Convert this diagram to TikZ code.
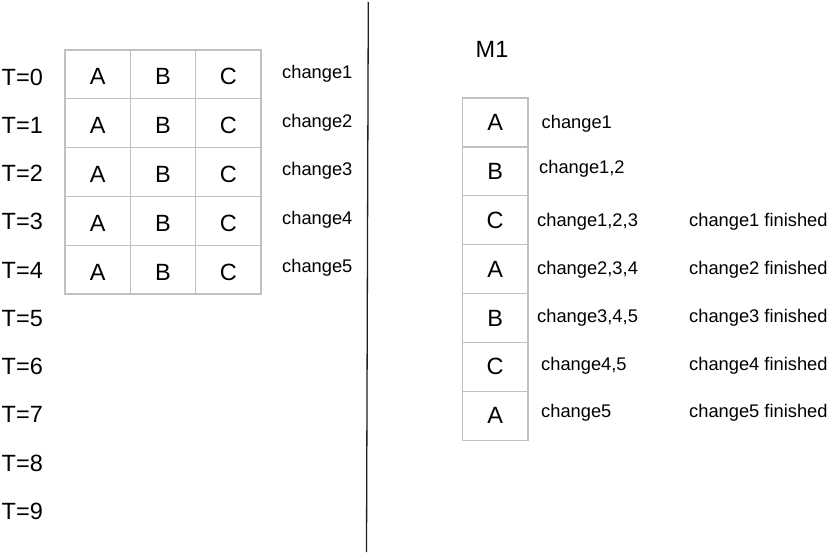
\documentclass[tikz,border=0pt]{standalone}
\usepackage{fontspec}
\setmainfont{Liberation Sans}
\begin{document}
\begin{tikzpicture}[x=1pt,y=-1pt,
  big/.style={font=\fontsize{23.5}{27}\selectfont},
  small/.style={font=\fontsize{18.3}{22}\selectfont},
  lbl/.style={inner sep=0pt, anchor=base west},
  cellL/.style={draw=cellgray, line width=1.2pt, minimum width=65.3pt, minimum height=48.8pt, inner sep=0pt, text height=21pt, text depth=0pt, big},
  cellR/.style={draw=cellgray, line width=1.2pt, minimum width=65.5pt, minimum height=48.9pt, inner sep=0pt, text height=16pt, text depth=0pt, big}]
\definecolor{cellgray}{RGB}{192,192,192}
\definecolor{divline}{RGB}{30,30,30}
\useasboundingbox (0,0) rectangle (831,557);
\fill[white] (0,0) rectangle (831,557);
% left table
\foreach \i in {0,...,4}{
  \node[cellL] (a\i) at (97.7,{74.4+48.8*\i}) {A};
  \node[cellL] (b\i) at (163,{74.4+48.8*\i}) {B};
  \node[cellL] (c\i) at (228.3,{74.4+48.8*\i}) {C};
}
% time labels
\node[lbl,big] (t0) at (1.5,85) {T=0};
\node[lbl,big] (t1) at (1.5,133.3) {T=1};
\node[lbl,big] (t2) at (1.5,181.5) {T=2};
\node[lbl,big] (t3) at (1.5,229.8) {T=3};
\node[lbl,big] (t4) at (1.5,278) {T=4};
\node[lbl,big] (t5) at (1.5,326.3) {T=5};
\node[lbl,big] (t6) at (1.5,374.6) {T=6};
\node[lbl,big] (t7) at (1.5,422.8) {T=7};
\node[lbl,big] (t8) at (1.5,471.1) {T=8};
\node[lbl,big] (t9) at (1.5,519.3) {T=9};
\node[lbl,small] (ch0) at (282,78.5) {change1};
\node[lbl,small] (ch1) at (282,127) {change2};
\node[lbl,small] (ch2) at (282,175.5) {change3};
\node[lbl,small] (ch3) at (282,224) {change4};
\node[lbl,small] (ch4) at (282,272.5) {change5};
% divider
\coordinate (dtop) at (368.3,2);
\coordinate (dbot) at (366.5,552);
\draw[divline, line width=1.3pt] (dtop) -- (dbot);
% right side
\node[lbl,big] (m1) at (475.5,57) {M1};
\node[cellR] (r0) at (495.2,122.45) {A};
\node[cellR] (r1) at (495.2,171.35) {B};
\node[cellR] (r2) at (495.2,220.25) {C};
\node[cellR] (r3) at (495.2,269.15) {A};
\node[cellR] (r4) at (495.2,318.05) {B};
\node[cellR] (r5) at (495.2,366.95) {C};
\node[cellR] (r6) at (495.2,415.85) {A};
\node[lbl,small] (s0) at (541.5,128) {change1};
\node[lbl,small] (s1) at (539,173) {change1,2};
\node[lbl,small] (s2) at (537,226) {change1,2,3};
\node[lbl,small] (s3) at (537,274) {change2,3,4};
\node[lbl,small] (s4) at (537,322) {change3,4,5};
\node[lbl,small] (s5) at (541,370) {change4,5};
\node[lbl,small] (s6) at (541,417) {change5};
\node[lbl,small] (f1) at (689,226) {change1 finished};
\node[lbl,small] (f2) at (689,274) {change2 finished};
\node[lbl,small] (f3) at (689,322) {change3 finished};
\node[lbl,small] (f4) at (689,370) {change4 finished};
\node[lbl,small] (f5) at (689,417) {change5 finished};
\end{tikzpicture}
\end{document}
